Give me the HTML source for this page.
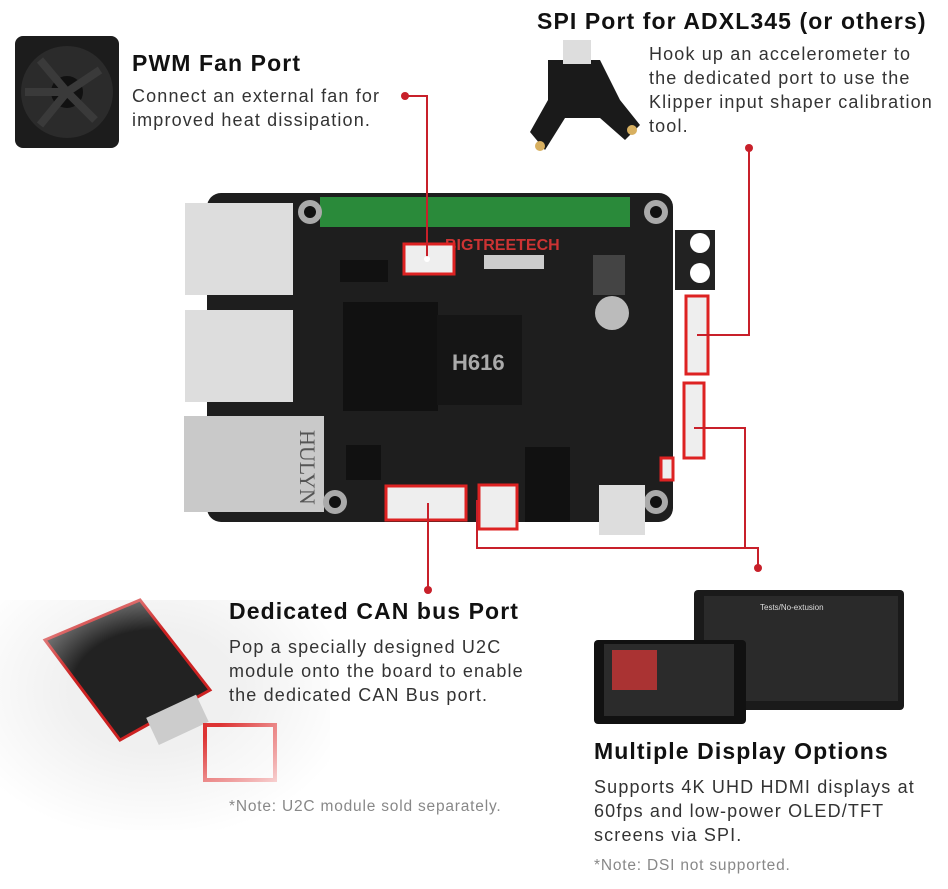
<!DOCTYPE html>
<html><head><meta charset="utf-8"><style>
body{margin:0;width:948px;height:889px;background:#fff;overflow:hidden;font-family:"Liberation Sans",sans-serif;position:relative;color:#222}
.t{position:absolute;font-weight:bold;font-size:23px;letter-spacing:1.1px;color:#111;white-space:nowrap}
.d{position:absolute;font-size:18px;letter-spacing:1.15px;line-height:24px;color:#333;white-space:nowrap}
.n{position:absolute;font-size:15.5px;letter-spacing:0.8px;color:#888;white-space:nowrap}
svg{position:absolute;left:0;top:0}
</style></head><body>
<svg width="948" height="889" viewBox="0 0 948 889">
<defs><radialGradient id="fade" cx="0.45" cy="0.4" r="0.6"><stop offset="0.4" stop-color="#fff" stop-opacity="0"/><stop offset="1" stop-color="#fff" stop-opacity="1"/></radialGradient></defs>
<rect x="15" y="36" width="104" height="112" rx="8" fill="#1c1c1c"/>
<circle cx="67" cy="92" r="46" fill="#2b2b2b"/><circle cx="67" cy="92" r="16" fill="#111"/>
<path d="M67 92 L40 60 M67 92 L100 70 M67 92 L95 120 M67 92 L40 125 M67 92 L25 92" stroke="#3a3a3a" stroke-width="8"/>
<path d="M548 60 L600 60 L620 100 L640 125 L625 140 L600 118 L565 118 L545 150 L530 132 L548 100 Z" fill="#1a1a1a"/>
<rect x="563" y="40" width="28" height="24" fill="#ddd"/>
<circle cx="540" cy="146" r="5" fill="#d8b060"/><circle cx="632" cy="130" r="5" fill="#d8b060"/>
<rect x="207" y="193" width="466" height="329" rx="14" fill="#1e1e1e"/>
<rect x="185" y="203" width="108" height="92" fill="#ddd"/>
<rect x="185" y="310" width="108" height="92" fill="#ddd"/>
<rect x="184" y="416" width="140" height="96" fill="#c9c9c9"/>
<text x="0" y="0" transform="translate(300 430) rotate(90)" font-family="Liberation Serif" font-size="22" fill="#555">HULYN</text>
<rect x="320" y="197" width="310" height="30" fill="#2a8a3a"/>
<rect x="340" y="260" width="48" height="22" fill="#111"/>
<rect x="343" y="302" width="95" height="68" fill="#111"/>
<rect x="343" y="367" width="95" height="44" fill="#111"/>
<rect x="437" y="315" width="85" height="90" fill="#151515"/>
<text x="452" y="370" font-size="22" font-weight="bold" fill="#aaa">H616</text>
<text x="445" y="250" font-size="16" font-weight="bold" fill="#c33">BIGTREETECH</text>
<rect x="484" y="255" width="60" height="14" fill="#ccc"/>
<circle cx="612" cy="313" r="17" fill="#bbb"/>
<rect x="593" y="255" width="32" height="40" fill="#444"/>
<rect x="675" y="230" width="40" height="60" fill="#222"/>
<circle cx="700" cy="243" r="10" fill="#fff"/><circle cx="700" cy="273" r="10" fill="#fff"/>
<circle cx="310" cy="212" r="12" fill="#aaa"/><circle cx="310" cy="212" r="6" fill="#111"/>
<circle cx="656" cy="212" r="12" fill="#aaa"/><circle cx="656" cy="212" r="6" fill="#111"/>
<circle cx="335" cy="502" r="12" fill="#aaa"/><circle cx="335" cy="502" r="6" fill="#111"/>
<circle cx="656" cy="502" r="12" fill="#aaa"/><circle cx="656" cy="502" r="6" fill="#111"/>
<rect x="525" y="447" width="45" height="75" fill="#111"/>
<rect x="599" y="485" width="46" height="50" fill="#ddd"/>
<rect x="346" y="445" width="35" height="35" fill="#111"/>
<g fill="#eee" stroke="#d22" stroke-width="3">
<rect x="404" y="244" width="50" height="30"/>
<rect x="686" y="296" width="22" height="78"/>
<rect x="684" y="383" width="20" height="75"/>
<rect x="386" y="486" width="80" height="34"/>
<rect x="479" y="485" width="38" height="44"/>
<rect x="661" y="458" width="12" height="22"/>
</g>
<g stroke="#c8202a" stroke-width="2" fill="none">
<path d="M405 96 H427 V259"/>
<path d="M749 148 V335 H697"/>
<path d="M694 428 H745 V548"/>
<path d="M477 500 V548 H758 V568"/>
<path d="M428 503 V590"/>
</g>
<g fill="#c8202a"><circle cx="405" cy="96" r="4"/><circle cx="749" cy="148" r="4"/><circle cx="758" cy="568" r="4"/><circle cx="428" cy="590" r="4"/>
<circle cx="427" cy="259" r="3" fill="#fff"/></g>
<rect x="0" y="600" width="330" height="230" fill="#f0f0f0"/>
<path d="M45 640 L140 600 L210 690 L120 740 Z" fill="#222" stroke="#c22" stroke-width="3"/>
<rect x="150" y="705" width="55" height="30" fill="#ccc" transform="rotate(-25 177 720)"/>
<rect x="205" y="725" width="70" height="55" fill="#f3f3f3" stroke="#d33" stroke-width="4"/>
<rect x="0" y="590" width="340" height="250" fill="url(#fade)"/>
<rect x="694" y="590" width="210" height="120" rx="4" fill="#1a1a1a"/>
<rect x="704" y="596" width="194" height="105" fill="#2a2a2a"/>
<text x="760" y="610" font-size="8" fill="#ddd">Tests/No-extusion</text>
<rect x="594" y="640" width="152" height="84" rx="4" fill="#111"/>
<rect x="604" y="644" width="130" height="72" fill="#2b2b2b"/>
<rect x="612" y="650" width="45" height="40" fill="#a33"/>
</svg>
<div class="t" style="left:132px;top:50px">PWM Fan Port</div>
<div class="d" style="left:132px;top:84px">Connect an external fan for<br>improved heat dissipation.</div>
<div class="t" style="left:537px;top:8px">SPI Port for ADXL345 (or others)</div>
<div class="d" style="left:649px;top:42px">Hook up an accelerometer to<br>the dedicated port to use the<br>Klipper input shaper calibration<br>tool.</div>
<div class="t" style="left:229px;top:598px">Dedicated CAN bus Port</div>
<div class="d" style="left:229px;top:635px">Pop a specially designed U2C<br>module onto the board to enable<br>the dedicated CAN Bus port.</div>
<div class="n" style="left:229px;top:798px">*Note: U2C module sold separately.</div>
<div class="t" style="left:594px;top:738px">Multiple Display Options</div>
<div class="d" style="left:594px;top:775px">Supports 4K UHD HDMI displays at<br>60fps and low-power OLED/TFT<br>screens via SPI.</div>
<div class="n" style="left:594px;top:857px">*Note: DSI not supported.</div>
</body></html>
